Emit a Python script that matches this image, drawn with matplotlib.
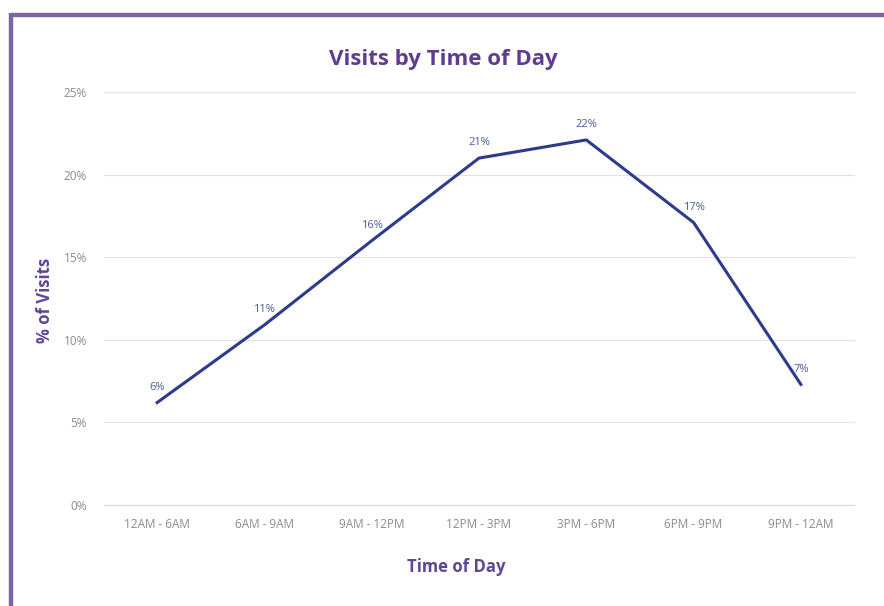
import matplotlib
matplotlib.use("Agg")
import matplotlib.pyplot as plt
from matplotlib.lines import Line2D
from matplotlib.ticker import FuncFormatter

categories = ["12AM - 6AM", "6AM - 9AM", "9AM - 12PM", "12PM - 3PM", "3PM - 6PM", "6PM - 9PM", "9PM - 12AM"]
visits = [6.2, 10.9, 16.0, 21.0, 22.1, 17.1, 7.3]
labels = ["6%", "11%", "16%", "21%", "22%", "17%", "7%"]
yticks = [0, 5, 10, 15, 20, 25]

plt.rcParams['font.family'] = ['Open Sans', 'DejaVu Sans']

W, H = 884, 606
fig = plt.figure(figsize=(W/100, H/100), dpi=100)
fig.patch.set_facecolor('white')

purple = '#8064A2'
fig.add_artist(Line2D([11.3/W, 1.0], [1-14.5/H, 1-14.5/H], color=purple, lw=3.2, transform=fig.transFigure, solid_capstyle='butt'))
fig.add_artist(Line2D([11.3/W, 11.3/W], [0, 1-12.5/H], color=purple, lw=3.2, transform=fig.transFigure, solid_capstyle='butt'))

ax = fig.add_axes([103.5/W, 1-505/H, (854.5-103.5)/W, (505-92)/H])
x = list(range(len(categories)))
ax.plot(x, visits, color='#2E3B8C', lw=2.2, solid_joinstyle='round')
for xi, v, lab in zip(x, visits, labels):
    ax.annotate(lab, (xi, v), xytext=(0, 7), textcoords='offset points', ha='center', va='bottom',
                fontsize=8, color='#4A5A9A')

ax.set_xlim(-0.5, len(categories)-0.5)
ax.set_ylim(0, 25)
ax.set_yticks(yticks)
ax.yaxis.set_major_formatter(FuncFormatter(lambda v, p: f"{int(v)}%"))
ax.set_xticks(x)
ax.set_xticklabels(categories)
ax.grid(axis='y', color='#e3e3e3', lw=0.9)
ax.set_axisbelow(True)
for s in ['top', 'right', 'left']:
    ax.spines[s].set_visible(False)
ax.spines['bottom'].set_color('#dcdcdc')
ax.spines['bottom'].set_linewidth(0.9)
ax.tick_params(axis='both', length=0, labelsize=8.5, labelcolor='#8a8a8a')
ax.tick_params(axis='y', pad=12)
ax.tick_params(axis='x', pad=9)

fig.text(456/W, 1-567/H, "Time of Day", ha='center', va='center', fontsize=12, fontweight='bold', color='#5E4596')
fig.text(45/W, 1-300/H, "% of Visits", ha='center', va='center', rotation=90, fontsize=12, fontweight='bold', color='#5E4596')
fig.text(443/W, 1-59/H, "Visits by Time of Day", ha='center', va='center', fontsize=16, fontweight='bold', color='#5E3D91')

fig.savefig("out.png", dpi=100)
